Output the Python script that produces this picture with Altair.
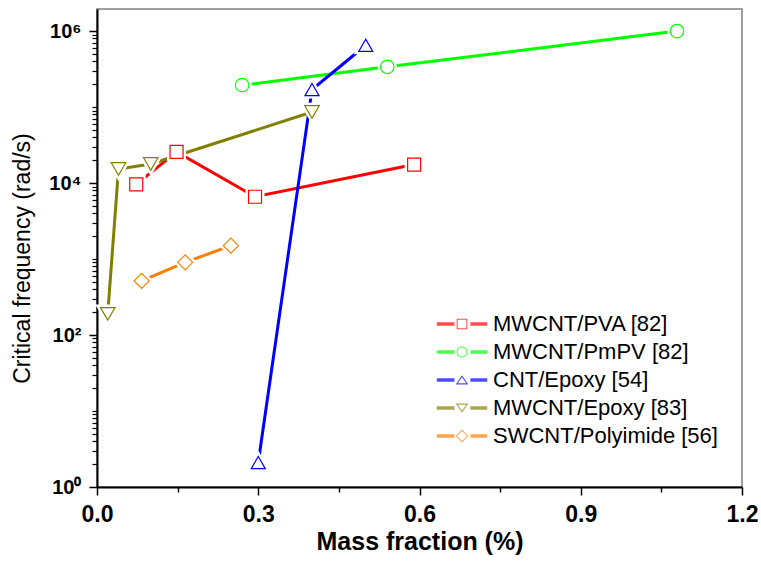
import altair as alt
import pandas as pd

# ---- data ----
series = ["MWCNT/PVA [82]", "MWCNT/PmPV [82]", "CNT/Epoxy [54]",
          "MWCNT/Epoxy [83]", "SWCNT/Polyimide [56]"]
colors = ["#FF0000", "#00FF00", "#0000FF", "#808000", "#FF8000"]

pva_x = [0.073, 0.148, 0.294, 0.59]
pva_y = [9.6e3, 2.57e4, 6.6e3, 1.75e4]
pmpv_x = [0.27, 0.54, 1.079]
pmpv_y = [1.94e5, 3.38e5, 1.0e6]
cnt_ep_x = [0.30, 0.40, 0.50]
cnt_ep_y = [2.1, 1.7e5, 6.5e5]
mw_ep_x = [0.02, 0.04, 0.10, 0.40]
mw_ep_y = [190, 1.53e4, 1.78e4, 8.6e4]
sw_pi_x = [0.083, 0.164, 0.249]
sw_pi_y = [515, 904, 1500]

x_ticks = [0.0, 0.3, 0.6, 0.9, 1.2]
x_minor = [0.15, 0.45, 0.75, 1.05]
y_ticks = [1, 100, 10000, 1000000]
y_tick_labels = ["10\u2070", "10\u00b2", "10\u2074", "10\u2076"]
y_minor = [m * 10 ** k for k in range(0, 6) for m in range(2, 10)] + [10, 1000, 100000]

xs = [pva_x, pmpv_x, cnt_ep_x, mw_ep_x, sw_pi_x]
ys = [pva_y, pmpv_y, cnt_ep_y, mw_ep_y, sw_pi_y]
rows = []
for s, xx, yy in zip(series, xs, ys):
    for i, (a, b) in enumerate(zip(xx, yy)):
        rows.append({"series": s, "x": a, "y": b, "i": i})
df = pd.DataFrame(rows)

std_shapes = ["square", "circle", "triangle-up", "triangle-down", "diamond"]
marker_sizes = [169, 225, 324, 324, 289]

# legend symbols: line - hollow marker - line (custom paths, unit = 6 px)
seg = "M-4.2,-0.3H-1.25V0.3H-4.2Z M1.4,-0.3H4.2V0.3H1.4Z "
legend_paths = [
    seg + "M-0.89,-0.89H0.89V0.89H-0.89Z M-0.72,-0.72V0.72H0.72V-0.72Z",
    seg + "M-0.92,0A0.92,0.92 0 1,1 0.92,0A0.92,0.92 0 1,1 -0.92,0Z "
          "M-0.75,0A0.75,0.75 0 1,0 0.75,0A0.75,0.75 0 1,0 -0.75,0Z",
    seg + "M0,-0.8L1.05,0.75L-1.05,0.75Z M0,-0.45L-0.7,0.56L0.7,0.56Z",
    seg + "M0,0.8L-1.05,-0.75L1.05,-0.75Z M0,0.45L0.7,-0.56L-0.7,-0.56Z",
    seg + "M0,-1.08L1.08,0L0,1.08L-1.08,0Z M0,-0.84L-0.84,0L0,0.84L0.84,0Z",
]

label_expr = " : ".join(
    f"datum.value == {v} ? '{l}'" for v, l in zip(y_ticks[:-1], y_tick_labels[:-1])
) + f" : '{y_tick_labels[-1]}'"

xscale = alt.Scale(domain=[0, 1.2], nice=False, zero=False)
yscale = alt.Scale(type="log", domain=[1, 1.95e6], nice=False)

x_major = alt.Axis(values=x_ticks, format=".1f", title="Mass fraction (%)",
                   orient="bottom", grid=False, labelFontSize=23, labelFontWeight="bold",
                   labelFont="Liberation Sans", labelColor="black", labelPadding=8,
                   labelFlush=False,
                   tickSize=8, tickWidth=1.5, tickColor="black", domainColor="black",
                   domainWidth=2, titleFont="Liberation Sans", titleFontSize=25,
                   titleFontWeight="bold", titleColor="black", titlePadding=3)
y_major = alt.Axis(values=y_ticks, labelExpr=label_expr,
                   title="Critical frequency (rad/s)", orient="left", grid=False,
                   labelFontSize=20, labelFontWeight="bold", labelFont="Liberation Sans",
                   labelColor="black", labelPadding=8, labelFlush=False,
                   tickSize=8, tickWidth=1.5,
                   tickColor="black", domainColor="black", domainWidth=2,
                   titleFont="Liberation Sans", titleFontSize=23, titleFontWeight="normal",
                   titleColor="black", titlePadding=14, titleY=249)
x_min_ax = alt.Axis(values=x_minor, orient="bottom", labels=False, domain=False,
                    grid=False, title=None, tickSize=5, tickWidth=1.5, tickColor="black")
y_min_ax = alt.Axis(values=y_minor, orient="left", labels=False, domain=False,
                    grid=False, title=None, tickSize=5, tickWidth=1.2, tickColor="black")

color_scale = alt.Scale(domain=series, range=colors)

base = alt.Chart(df)

legend_layer = base.mark_point(filled=True, size=1, strokeWidth=0).encode(
    x=alt.X("x:Q", scale=xscale, axis=None),
    y=alt.Y("y:Q", scale=yscale, axis=None),
    color=alt.Color("series:N", scale=color_scale,
                    legend=alt.Legend(title=None)),
    shape=alt.Shape("series:N", scale=alt.Scale(domain=series, range=legend_paths),
                    legend=alt.Legend(title=None)),
)

lines = base.mark_line(strokeWidth=3).encode(
    x=alt.X("x:Q", scale=xscale, axis=x_major),
    y=alt.Y("y:Q", scale=yscale, axis=y_major),
    color=alt.Color("series:N", scale=color_scale, legend=None),
    detail="series:N",
    order="i:O",
)

gaps = base.mark_point(filled=False, fill="white", stroke="white", strokeWidth=6,
                       opacity=1).encode(
    x=alt.X("x:Q", scale=xscale, axis=x_min_ax),
    y=alt.Y("y:Q", scale=yscale, axis=y_min_ax),
    shape=alt.Shape("series:N", scale=alt.Scale(domain=series, range=std_shapes), legend=None),
    size=alt.Size("series:N", scale=alt.Scale(domain=series, range=marker_sizes), legend=None),
)

points = base.mark_point(filled=False, fill="white", strokeWidth=1.2, opacity=1).encode(
    x=alt.X("x:Q", scale=xscale, axis=None),
    y=alt.Y("y:Q", scale=yscale, axis=None),
    color=alt.Color("series:N", scale=color_scale, legend=None),
    shape=alt.Shape("series:N", scale=alt.Scale(domain=series, range=std_shapes), legend=None),
    size=alt.Size("series:N", scale=alt.Scale(domain=series, range=marker_sizes), legend=None),
)

chart = alt.layer(legend_layer, lines, gaps, points).resolve_scale(
    color="independent", shape="independent", size="independent"
).resolve_axis(
    x="independent", y="independent"
).properties(
    width=645, height=478,
    autosize=alt.AutoSizeParams(type="none"),
    padding={"left": 97, "top": 9, "right": 19, "bottom": 87},
    background="white",
).configure_view(
    stroke="#808080", strokeWidth=1.5
).configure_legend(
    orient="none", legendX=354, legendY=304, padding=0,
    symbolSize=144, symbolStrokeWidth=0, symbolType="circle",
    labelFont="Liberation Sans", labelFontSize=22, labelColor="black",
    labelOffset=20, rowPadding=6, labelLimit=400,
)

chart.save("out.html", embed_options={"renderer": "svg", "actions": False})
